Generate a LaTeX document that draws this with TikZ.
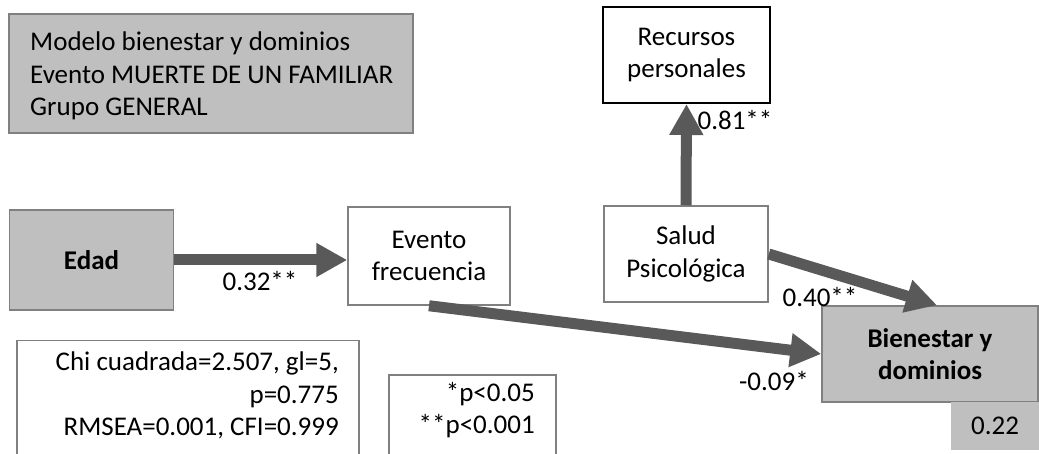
\documentclass[tikz,border=0pt]{standalone}
\usepackage{fontspec}
\setmainfont{Carlito}
\usetikzlibrary{arrows.meta,calc}
\definecolor{boxgray}{RGB}{191,191,191}
\definecolor{edgegray}{RGB}{128,128,128}
\definecolor{arrowgray}{RGB}{89,89,89}
\begin{document}
\begin{tikzpicture}[x=1pt,y=-1pt,
  every node/.style={font=\fontsize{27}{32.5}\selectfont, inner sep=0pt},
  varbox/.style={draw=edgegray, line width=1.5pt, fill=white, align=flush center},
  graybox/.style={varbox, fill=boxgray},
  path/.style={draw=arrowgray, line width=11pt,
    -{Triangle[width=32pt,length=31pt]}},
  coef/.style={anchor=center}]
\useasboundingbox (0,0) rectangle (1039,454);
\clip (0,0) rectangle (1039,454);

% caption box
\node[graybox, minimum width=404pt, minimum height=119pt] (title) at (211,73.5) {};
\node[anchor=north west, align=flush left] (titletext) at (30,32)
  {Modelo bienestar y dominios\\Evento MUERTE DE UN FAMILIAR\\Grupo GENERAL};

% variables
\node[varbox, draw=black, line width=2pt, minimum width=167pt, minimum height=96pt]
  (recursos) at (686.5,55) {Recursos\\personales};
\node[varbox, minimum width=164pt, minimum height=96pt]
  (salud) at (686,254) {Salud\\Psicológica};
\node[varbox, minimum width=162pt, minimum height=98pt]
  (evento) at (429,256) {Evento\\frecuencia};
\node[graybox, minimum width=164pt, minimum height=100pt]
  (edad) at (91.5,260) {\bfseries Edad};
\node[graybox, minimum width=216pt, minimum height=96pt]
  (bienestar) at (930,354) {\bfseries Bienestar y\\\bfseries dominios};
\node[fill=boxgray, minimum width=88pt, minimum height=48pt]
  (r2) at (995,426) {0.22};

% fit statistics and significance legend (frames run past the lower edge)
\node[varbox, minimum width=342pt, minimum height=140pt, anchor=north west]
  (fit) at (16,340) {};
\node[anchor=north east, align=flush right] (fittext) at (339,352)
  {Chi cuadrada=2.507, gl=5,\\p=0.775\\RMSEA=0.001, CFI=0.999};
\node[varbox, minimum width=167pt, minimum height=110pt, anchor=north west]
  (sig) at (388,374) {};
\node[anchor=north east, align=flush right] (sigtext) at (535,382)
  {{*}p<0.05\\{**}p<0.001};

% paths
\draw[path] (edad.east) -- (edad.east -| evento.west);
\draw[path] (salud.north) -- (recursos.south);
\draw[path] (salud.east) -- ($(bienestar.north)+(7,0)$);
\draw[path] (evento.south) -- (bienestar.west);

% path coefficients
\node[coef] (c1) at (260,281) {0.32**};
\node[coef] (c2) at (735,120) {0.81**};
\node[coef] (c3) at (820,297) {0.40**};
\node[coef] (c4) at (774,381) {-0.09*};
\end{tikzpicture}
\end{document}
